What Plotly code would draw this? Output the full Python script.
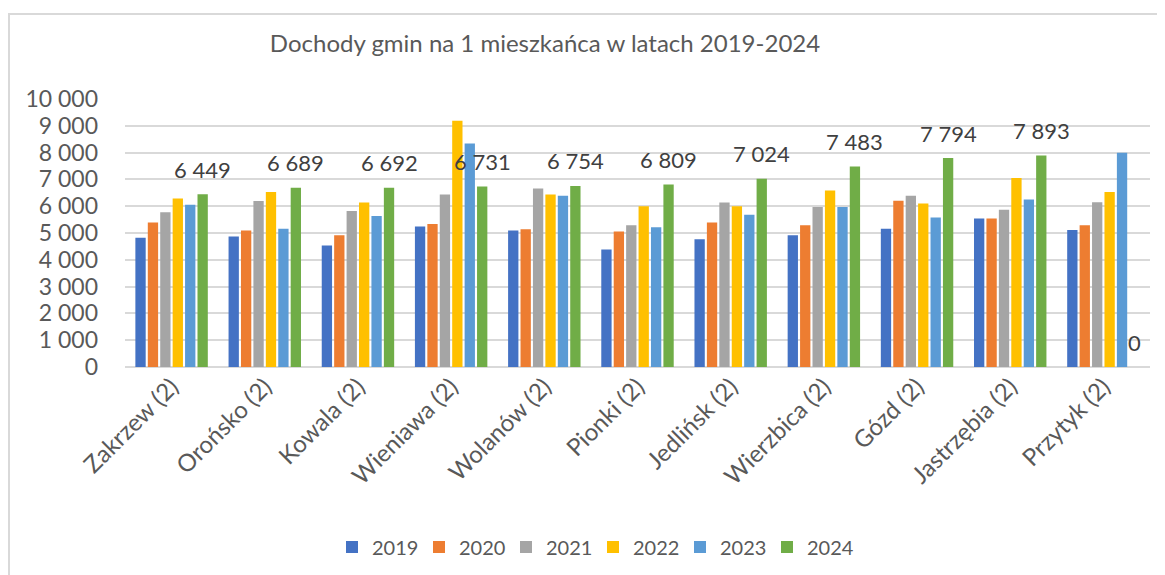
import plotly.graph_objects as go

categories = ["Zakrzew (2)", "Orońsko (2)", "Kowala (2)", "Wieniawa (2)", "Wolanów (2)",
              "Pionki (2)", "Jedlińsk (2)", "Wierzbica (2)", "Gózd (2)", "Jastrzębia (2)", "Przytyk (2)"]
years = ["2019", "2020", "2021", "2022", "2023", "2024"]

v2019 = [4820, 4870, 4530, 5240, 5090, 4380, 4770, 4920, 5160, 5540, 5110]
v2020 = [5390, 5090, 4920, 5340, 5140, 5060, 5390, 5290, 6200, 5540, 5290]
v2021 = [5770, 6190, 5820, 6440, 6660, 5290, 6140, 5970, 6390, 5870, 6150]
v2022 = [6290, 6530, 6140, 9190, 6440, 6000, 6000, 6590, 6100, 7050, 6530]
v2023 = [6050, 5160, 5630, 8340, 6390, 5210, 5680, 5970, 5580, 6250, 7990]
v2024 = [6449, 6689, 6692, 6731, 6754, 6809, 7024, 7483, 7794, 7893, 0]

series = [v2019, v2020, v2021, v2022, v2023, v2024]
colors = ["#4472C4", "#ED7D31", "#A5A5A5", "#FFC000", "#5B9BD5", "#70AD47"]

FONT = "Lato"
# page has an 8px body margin, so the figure is drawn 8px in from the window edge
OFF = 8
W, H = 1165 - OFF, 575 - OFF
ML, MR, MT, MB = 125 - OFF, 15, 99 - OFF, 208
BARGAP = 0.2

fig = go.Figure()
for name, vals, col in zip(years, series, colors):
    fig.add_trace(go.Bar(x=categories, y=vals, name=name, marker_color=col,
                         marker_line_width=0))

# data labels for the 2024 series (above the green bar)
plot_w = W - ML - MR
plot_h = H - MT - MB
slot = plot_w / len(categories) * (1 - BARGAP) / len(years)
green_offset = slot * (len(years) - 1) / 2
for c, v in zip(categories, v2024):
    fig.add_annotation(x=c, y=v, xref="x", yref="y", text=f"{v:,}".replace(",", " "),
                       showarrow=False, xshift=green_offset, yshift=25,
                       font=dict(family=FONT, size=22, color="#404040"))

fig.update_layout(
    width=W, height=H,
    margin=dict(l=ML, r=MR, t=MT, b=MB),
    barmode="group", bargap=BARGAP, bargroupgap=0.17,
    separators=", ",
    paper_bgcolor="white", plot_bgcolor="white",
    font=dict(family=FONT, color="#595959"),
    title=dict(text="Dochody gmin na 1 mieszkańca w latach 2019-2024",
               x=(545 - OFF) / W, xref="container", xanchor="center",
               y=1 - (44 - OFF) / H, yref="container", yanchor="middle",
               font=dict(family=FONT, size=24, color="#595959")),
    legend=dict(orientation="h", xref="container", yref="container",
                x=(593 - OFF) / W, xanchor="center", y=1 - (547 - OFF) / H, yanchor="middle",
                font=dict(family=FONT, size=20, color="#595959"),
                itemwidth=30, tracegroupgap=0, entrywidth=42),
    showlegend=True,
)
fig.update_yaxes(range=[0, 10000], dtick=1000, tickformat=",d",
                 showgrid=True, gridcolor="#D9D9D9", gridwidth=1.5,
                 zeroline=True, zerolinecolor="#D9D9D9", zerolinewidth=1.5,
                 showline=False, ticks="", ticklabelstandoff=26,
                 tickfont=dict(family=FONT, size=23, color="#595959"))
fig.update_xaxes(tickangle=-45, showline=False, ticks="",
                 tickfont=dict(family=FONT, size=24, color="#595959"))

# chart border
fig.add_shape(type="rect", xref="paper", yref="paper",
              x0=(9 - OFF - ML) / plot_w, x1=(W + 10 - ML) / plot_w,
              y0=(H - MB - (14 - OFF)) / plot_h, y1=(H - MB - H - 10) / plot_h,
              line=dict(color="#D9D9D9", width=2), fillcolor="rgba(0,0,0,0)", layer="below")

fig.write_html("out.html")
